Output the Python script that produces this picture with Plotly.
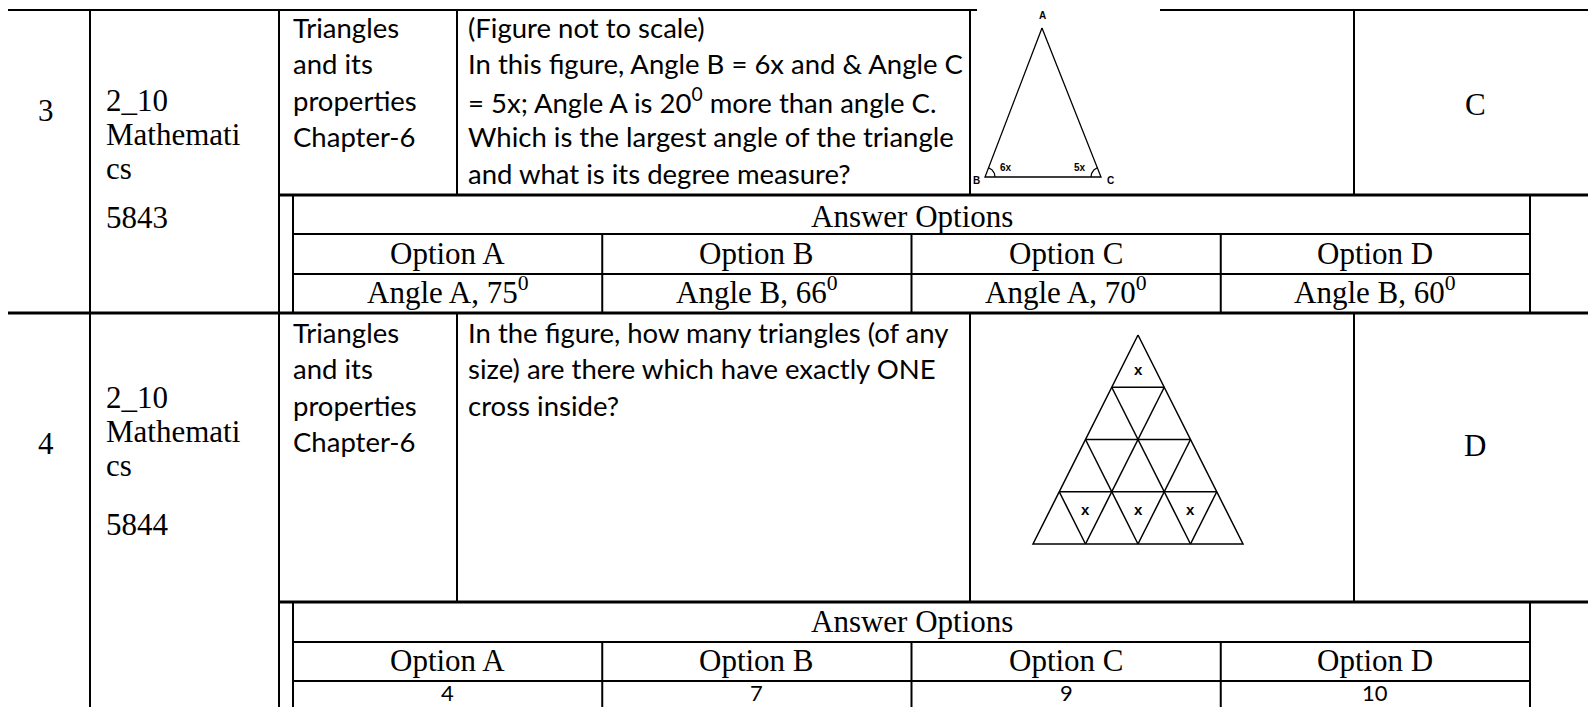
import numpy as np
import plotly.graph_objects as go

W, H = 1596, 715
PAD = 8   # default page margin around the plot div

# ---- table contents ----
row_numbers = ["3", "4"]
subject_lines = ["2_10", "Mathemati", "cs"]
question_ids = ["5843", "5844"]
topic_lines = ["Triangles", "and its", "properties", "Chapter-6"]
question_1 = ["(Figure not to scale)",
              "In this figure, Angle B = 6x and & Angle C",
              "= 5x; Angle A is 20<sup>0</sup> more than angle C.",
              "Which is the largest angle of the triangle",
              "and what is its degree measure?"]
question_2 = ["In the figure, how many triangles (of any",
              "size) are there which have exactly ONE",
              "cross inside?"]
answer_keys = ["C", "D"]
options_title = "Answer Options"
option_labels = ["Option A", "Option B", "Option C", "Option D"]
option_values_1 = ["Angle A, 75<sup>0</sup>", "Angle B, 66<sup>0</sup>",
                   "Angle A, 70<sup>0</sup>", "Angle B, 60<sup>0</sup>"]
option_values_2 = ["4", "7", "9", "10"]
triangle_labels = ["A", "B", "C"]
angle_labels = ["6x", "5x"]
grid_rows = 4
crossed_cells = [(0, 0), (3, 1), (3, 3), (3, 5)]   # (row, cell) holding an x

##----------------------------------------------------------------
# layout of the table (page pixels)
col_x = [3, 90, 279, 457, 970, 1354, W]
inner_l, inner_r = 293, 1530
opt_x = np.linspace(inner_l, inner_r, 5)
row_top = [10, 313]
body_bot = [195, 602]
title_bot = [234, 642]
head_bot = [274, 681]
row_bot = [313, H + 5]

SERIF = "Liberation Serif"
SANS = "Lato"
serif_size = 31
sans_size = 27.5

shapes = []
def line(x0, y0, x1, y1, w=2):
    shapes.append(dict(type="line", xref="x", yref="y", x0=x0, y0=y0, x1=x1, y1=y1,
                       line=dict(color="black", width=w)))

annots = []
def text(x, y, s, font=SERIF, size=serif_size, anchor="left"):
    annots.append(dict(x=x, y=y, xref="x", yref="y", text=s, showarrow=False,
                       xanchor=anchor, yanchor="middle",
                       font=dict(family=font, size=size, color="black")))

# outer frame
line(0, row_top[0], 977, row_top[0])
line(1160, row_top[0], W, row_top[0])
line(0, row_bot[0], W, row_bot[0], 3)
for x in col_x[:3]:
    line(x, row_top[0], x, H + 5)

for r in range(2):
    t, b = row_top[r], body_bot[r]
    for x in col_x[3:6]:
        line(x, t, x, b)
    line(col_x[2], b, W, b, 3)
    # answer option block
    line(inner_l, b, inner_l, row_bot[r])
    line(inner_r, b, inner_r, row_bot[r])
    line(inner_l, title_bot[r], inner_r, title_bot[r])
    line(inner_l, head_bot[r], inner_r, head_bot[r])
    for x in opt_x[1:4]:
        line(x, title_bot[r], x, row_bot[r])

# ---- texts ----
num_y = [110, 443]
ans_y = [104, 445]
sub_y = [[100, 134, 168], [397, 431, 465]]
id_y = [217, 524]
text_y0 = [27, 332]
title_y = [216, 621]
head_y = [253, 660]
val_y = [290, 692]
for r in range(2):
    text(46, num_y[r], row_numbers[r], anchor="center")
    for s, y in zip(subject_lines, sub_y[r]):
        text(104, y, s)
    text(104, id_y[r], question_ids[r])
    for i, s in enumerate(topic_lines):
        text(291, text_y0[r] + i * 36.5, s, font=SANS, size=sans_size)
    qs = question_1 if r == 0 else question_2
    for i, s in enumerate(qs):
        text(466, text_y0[r] + i * 36.5, s, font=SANS, size=sans_size)
    text((col_x[5] + W) / 2, ans_y[r], answer_keys[r], anchor="center")
    text((inner_l + inner_r) / 2, title_y[r], options_title, anchor="center")
    vals = option_values_1 if r == 0 else option_values_2
    for k in range(4):
        cx = (opt_x[k] + opt_x[k + 1]) / 2
        text(cx, head_y[r], option_labels[k], anchor="center")
        if r == 0:
            text(cx, val_y[r], vals[k], anchor="center")
        else:
            text(cx, val_y[r], vals[k], font=SANS, size=22, anchor="center")

fig = go.Figure()

# ---- figure 1: triangle ABC ----
A = np.array([1042, 28.0]); B = np.array([985, 177.0]); C = np.array([1101, 177.0])
tri = np.array([A, B, C, A])
fig.add_trace(go.Scatter(x=tri[:, 0], y=tri[:, 1], mode="lines",
                         line=dict(color="black", width=1.3), hoverinfo="skip"))
for P, Q, end in [(B, A, 0.0), (C, A, -np.pi)]:
    a0 = np.arctan2(Q[1] - P[1], Q[0] - P[0])
    t = np.linspace(a0, end, 20)
    fig.add_trace(go.Scatter(x=P[0] + 10 * np.cos(t), y=P[1] + 10 * np.sin(t), mode="lines",
                             line=dict(color="black", width=1.2), hoverinfo="skip"))
small = dict(family="Liberation Sans", size=10, color="black")
for s, p in zip(triangle_labels, [(A[0], 15), (B[0] - 9, 180), (C[0] + 9, 180)]):
    annots.append(dict(x=p[0], y=p[1], xref="x", yref="y", text="<b>%s</b>" % s,
                       showarrow=False, font=small))
for s, p in zip(angle_labels, [(B[0] + 21, 167), (C[0] - 21, 167)]):
    annots.append(dict(x=p[0], y=p[1], xref="x", yref="y", text="<b>%s</b>" % s,
                       showarrow=False, font=small))

# ---- figure 2: triangle grid ----
ax, ay = 1138.0, 335.0
base_l, base_r, base_y = 1033.0, 1243.0, 544.0
w = (base_r - base_l) / grid_rows
h = (base_y - ay) / grid_rows
gx, gy = [ax, base_l, base_r, ax, None], [ay, base_y, base_y, ay, None]
for k in range(1, grid_rows):
    y = ay + k * h
    gx += [ax - k * w / 2, ax + k * w / 2, None]; gy += [y, y, None]
for j in range(1, grid_rows):
    gx += [base_l + j * w, base_l + j * w / 2, None]; gy += [base_y, base_y - j * h, None]
    gx += [base_l + j * w, ax + j * w / 2, None]; gy += [base_y, ay + j * h, None]
fig.add_trace(go.Scatter(x=gx, y=gy, mode="lines", line=dict(color="black", width=1.5),
                         hoverinfo="skip"))
for r, c in crossed_cells:
    m = c // 2
    if c % 2 == 0:
        cx, cy = ax - r * w / 2 + m * w, ay + r * h + 2 * h / 3
    else:
        cx, cy = ax - r * w / 2 + m * w + w / 2, ay + r * h + h / 3
    annots.append(dict(x=cx, y=cy, xref="x", yref="y", text="<b>x</b>", showarrow=False,
                       font=dict(family="Liberation Sans", size=15, color="black")))

fig.update_layout(
    width=W - PAD, height=H - 2 * PAD, margin=dict(l=0, r=0, t=0, b=0),
    paper_bgcolor="white", plot_bgcolor="white", showlegend=False,
    xaxis=dict(range=[PAD, W], visible=False, fixedrange=True),
    yaxis=dict(range=[H - PAD, PAD], visible=False, fixedrange=True),
    shapes=shapes, annotations=annots,
)

fig.write_html("out.html")
